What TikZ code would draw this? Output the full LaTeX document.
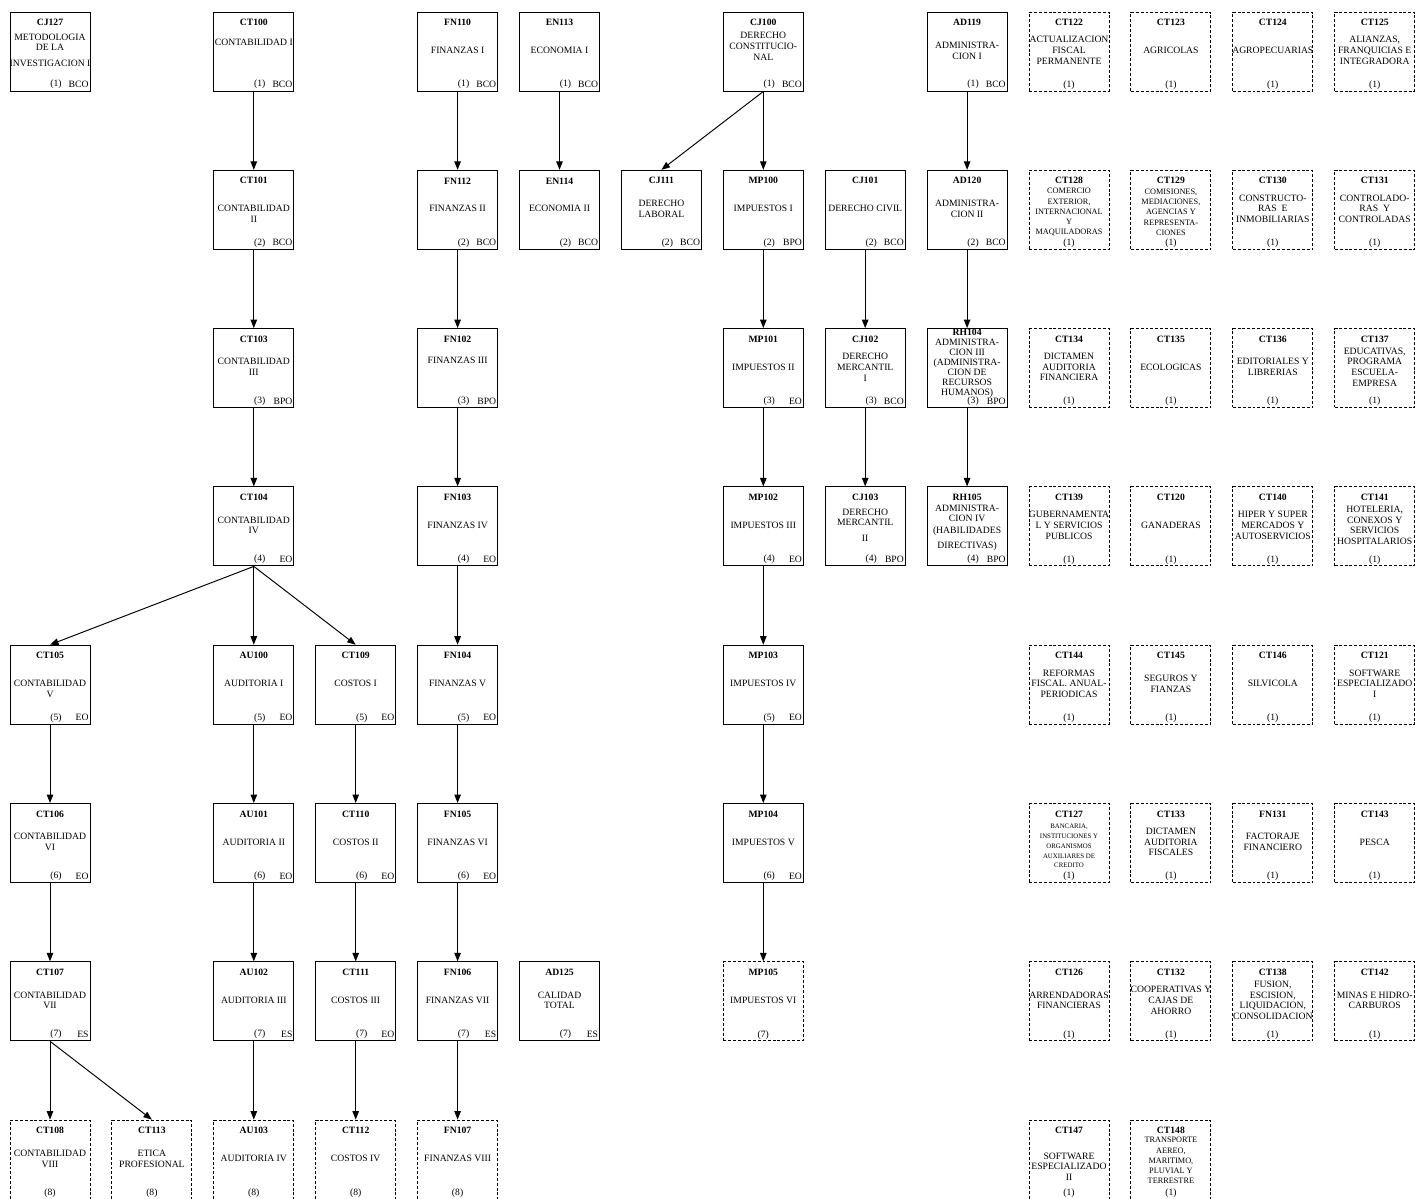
\documentclass[tikz,border=0pt]{standalone}
\usepackage{fontspec}
\setmainfont{Liberation Serif}
\usetikzlibrary{arrows.meta}

\newcommand{\chica}{\fontsize{4.7}{5.8}\selectfont}
\newcommand{\muychica}{\fontsize{3.9}{5.6}\selectfont}

% materia obligatoria: [opciones nombre]{col}{fila}{clave}{nombre}{semestre}{tipo}
\newcommand{\oblig}[7][]{%
  \node[caja] (#4) at ({1.0+2.038*#2},{-1.03-3.166*#3}) {};
  \node[clave] (#4-c) at ([yshift=-0.22cm]#4.north) {#4};
  \node[nombre,#1] (#4-n) at ([yshift=0.02cm]#4.center) {#5};
  \node[pie] (#4-s) at ([xshift=0.12cm,yshift=0.14cm]#4.south) {(#6)};
  \node[pie,anchor=east] (#4-t) at ([xshift=-0.02cm,yshift=0.14cm]#4.south east) {#7};
}
% materia optativa (caja punteada)
\newcommand{\optat}[6][]{%
  \node[cajaopt] (#4) at ({1.0+2.038*#2},{-1.03-3.166*#3}) {};
  \node[clave] (#4-c) at ([yshift=-0.22cm]#4.north) {#4};
  \node[nombre,#1] (#4-n) at ([yshift=0.02cm]#4.center) {#5};
  \node[pie] (#4-s) at ([yshift=0.13cm]#4.south) {(#6)};
}

\begin{document}
\begin{tikzpicture}[
  font=\fontsize{5.5}{6.1}\selectfont,
  caja/.style={draw, line width=0.55pt, minimum width=1.6cm, minimum height=1.58cm, inner sep=0},
  cajaopt/.style={caja, dash pattern=on 1.7pt off 1.1pt},
  clave/.style={font=\fontsize{5.5}{6.1}\selectfont\bfseries, inner sep=0},
  nombre/.style={align=center, inner sep=0},
  pie/.style={inner sep=0.3pt},
  flecha/.style={line width=0.55pt, -{Triangle[length=1.7mm,width=1.3mm]}},
]
\useasboundingbox (0,0) rectangle (28.3,-23.96);

% Contabilidad
\oblig{0}{0}{CJ127}{METODOLOGIA\\DE LA\\[3pt]INVESTIGACION I}{1}{BCO}
\oblig[yshift=0.16cm]{2}{0}{CT100}{CONTABILIDAD I}{1}{BCO}
\oblig[yshift=-0.1cm]{2}{1}{CT101}{CONTABILIDAD\\II}{2}{BCO}
\oblig{2}{2}{CT103}{CONTABILIDAD\\III}{3}{BPO}
\oblig{2}{3}{CT104}{CONTABILIDAD\\IV}{4}{EO}
\oblig[yshift=-0.1cm]{0}{4}{CT105}{CONTABILIDAD\\V}{5}{EO}
\oblig{0}{5}{CT106}{CONTABILIDAD\\VI}{6}{EO}
\oblig{0}{6}{CT107}{CONTABILIDAD\\VII}{7}{ES}
\optat{0}{7}{CT108}{CONTABILIDAD\\VIII}{8}
\optat{1}{7}{CT113}{ETICA\\PROFESIONAL}{8}

% Auditoria y costos
\oblig{2}{4}{AU100}{AUDITORIA I}{5}{EO}
\oblig{2}{5}{AU101}{AUDITORIA II}{6}{EO}
\oblig{2}{6}{AU102}{AUDITORIA III}{7}{ES}
\optat{2}{7}{AU103}{AUDITORIA IV}{8}
\oblig{3}{4}{CT109}{COSTOS I}{5}{EO}
\oblig{3}{5}{CT110}{COSTOS II}{6}{EO}
\oblig{3}{6}{CT111}{COSTOS III}{7}{EO}
\optat{3}{7}{CT112}{COSTOS IV}{8}

% Finanzas y economia
\oblig{4}{0}{FN110}{FINANZAS I}{1}{BCO}
\oblig{4}{1}{FN112}{FINANZAS II}{2}{BCO}
\oblig[yshift=0.14cm]{4}{2}{FN102}{FINANZAS III}{3}{BPO}
\oblig{4}{3}{FN103}{FINANZAS IV}{4}{EO}
\oblig{4}{4}{FN104}{FINANZAS V}{5}{EO}
\oblig{4}{5}{FN105}{FINANZAS VI}{6}{EO}
\oblig{4}{6}{FN106}{FINANZAS VII}{7}{ES}
\optat{4}{7}{FN107}{FINANZAS VIII}{8}
\oblig{5}{0}{EN113}{ECONOMIA I}{1}{BCO}
\oblig{5}{1}{EN114}{ECONOMIA II}{2}{BCO}
\oblig{5}{6}{AD125}{CALIDAD\\TOTAL}{7}{ES}

% Derecho e impuestos
\oblig[yshift=0.08cm]{7}{0}{CJ100}{DERECHO\\CONSTITUCIO-\\NAL}{1}{BCO}
\oblig{6}{1}{CJ111}{DERECHO\\LABORAL}{2}{BCO}
\oblig{7}{1}{MP100}{IMPUESTOS I}{2}{BPO}
\oblig{7}{2}{MP101}{IMPUESTOS II}{3}{EO}
\oblig{7}{3}{MP102}{IMPUESTOS III}{4}{EO}
\oblig{7}{4}{MP103}{IMPUESTOS IV}{5}{EO}
\oblig{7}{5}{MP104}{IMPUESTOS V}{6}{EO}
\optat{7}{6}{MP105}{IMPUESTOS VI}{7}
\oblig{8}{1}{CJ101}{DERECHO CIVIL}{2}{BCO}
\oblig{8}{2}{CJ102}{DERECHO\\MERCANTIL\\I}{3}{BCO}
\oblig{8}{3}{CJ103}{DERECHO\\MERCANTIL\\[3pt]II}{4}{BPO}

% Administracion
\oblig{9}{0}{AD119}{ADMINISTRA-\\CION I}{1}{BCO}
\oblig{9}{1}{AD120}{ADMINISTRA-\\CION II}{2}{BCO}
\node[caja] (RH104) at ({1.0+2.038*9},{-1.03-3.166*2}) {};
\node[clave] (RH104-c) at ([yshift=-0.09cm]RH104.north) {RH104};
\node[nombre, font=\fontsize{5.5}{5.7}\selectfont] (RH104-n) at ([yshift=-0.01cm]RH104.center) {ADMINISTRA-\\CION III\\(ADMINISTRA-\\CION DE\\RECURSOS\\HUMANOS)};
\node[pie] (RH104-s) at ([xshift=0.12cm,yshift=0.14cm]RH104.south) {(3)};
\node[pie,anchor=east] (RH104-t) at ([xshift=-0.02cm,yshift=0.14cm]RH104.south east) {BPO};
\oblig[yshift=-0.05cm, font=\fontsize{5.5}{5.6}\selectfont]{9}{3}{RH105}{ADMINISTRA-\\CION IV\\[1.5pt](HABILIDADES\\[3pt]DIRECTIVAS)}{4}{BPO}

% Optativas
\optat{10}{0}{CT122}{ACTUALIZACION\\FISCAL\\PERMANENTE}{1}
\optat{11}{0}{CT123}{AGRICOLAS}{1}
\optat{12}{0}{CT124}{AGROPECUARIAS}{1}
\optat{13}{0}{CT125}{ALIANZAS,\\FRANQUICIAS E\\INTEGRADORA}{1}
\optat[font=\chica,yshift=-0.07cm]{10}{1}{CT128}{COMERCIO\\EXTERIOR,\\INTERNACIONAL\\Y\\MAQUILADORAS}{1}
\optat[font=\chica,yshift=-0.07cm]{11}{1}{CT129}{COMISIONES,\\MEDIACIONES,\\AGENCIAS Y\\REPRESENTA-\\CIONES}{1}
\optat{12}{1}{CT130}{CONSTRUCTO-\\RAS \ E\\INMOBILIARIAS}{1}
\optat{13}{1}{CT131}{CONTROLADO-\\RAS \ Y\\CONTROLADAS}{1}
\optat{10}{2}{CT134}{DICTAMEN\\AUDITORIA\\FINANCIERA}{1}
\optat{11}{2}{CT135}{ECOLOGICAS}{1}
\optat{12}{2}{CT136}{EDITORIALES Y\\LIBRERIAS}{1}
\optat{13}{2}{CT137}{EDUCATIVAS,\\PROGRAMA\\ESCUELA-\\EMPRESA}{1}
\optat{10}{3}{CT139}{GUBERNAMENTA\\L Y SERVICIOS\\PUBLICOS}{1}
\optat{11}{3}{CT120}{GANADERAS}{1}
\optat{12}{3}{CT140}{HIPER Y SUPER\\MERCADOS Y\\AUTOSERVICIOS}{1}
\optat{13}{3}{CT141}{HOTELERIA,\\CONEXOS Y\\SERVICIOS\\HOSPITALARIOS}{1}
\optat{10}{4}{CT144}{REFORMAS\\FISCAL. ANUAL-\\PERIODICAS}{1}
\optat{11}{4}{CT145}{SEGUROS Y\\FIANZAS}{1}
\optat{12}{4}{CT146}{SILVICOLA}{1}
\optat{13}{4}{CT121}{SOFTWARE\\ESPECIALIZADO\\I}{1}
\optat[font=\muychica,yshift=-0.08cm]{10}{5}{CT127}{BANCARIA,\\INSTITUCIONES Y\\ORGANISMOS\\AUXILIARES DE\\CREDITO}{1}
\optat{11}{5}{CT133}{DICTAMEN\\AUDITORIA\\FISCALES}{1}
\optat{12}{5}{FN131}{FACTORAJE\\FINANCIERO}{1}
\optat{13}{5}{CT143}{PESCA}{1}
\optat{10}{6}{CT126}{ARRENDADORAS\\FINANCIERAS}{1}
\optat{11}{6}{CT132}{COOPERATIVAS Y\\CAJAS DE\\AHORRO}{1}
\optat{12}{6}{CT138}{FUSION,\\ESCISION,\\LIQUIDACION,\\CONSOLIDACION}{1}
\optat{13}{6}{CT142}{MINAS E HIDRO-\\CARBUROS}{1}
\optat[yshift=-0.16cm]{10}{7}{CT147}{SOFTWARE\\ESPECIALIZADO\\II}{1}
\optat[font=\chica,yshift=-0.04cm]{11}{7}{CT148}{TRANSPORTE\\AEREO,\\MARITIMO,\\PLUVIAL Y\\TERRESTRE}{1}

% Seriacion
\draw[flecha] (CT100.south) -- (CT101.north);
\draw[flecha] (CT101.south) -- (CT103.north);
\draw[flecha] (CT103.south) -- (CT104.north);
\draw[flecha] (CT104.south) -- (CT105.north);
\draw[flecha] (CT104.south) -- (AU100.north);
\draw[flecha] (CT104.south) -- (CT109.north);
\draw[flecha] (CT105.south) -- (CT106.north);
\draw[flecha] (CT106.south) -- (CT107.north);
\draw[flecha] (CT107.south) -- (CT108.north);
\draw[flecha] (CT107.south) -- (CT113.north);
\draw[flecha] (AU100.south) -- (AU101.north);
\draw[flecha] (AU101.south) -- (AU102.north);
\draw[flecha] (AU102.south) -- (AU103.north);
\draw[flecha] (CT109.south) -- (CT110.north);
\draw[flecha] (CT110.south) -- (CT111.north);
\draw[flecha] (CT111.south) -- (CT112.north);
\draw[flecha] (FN110.south) -- (FN112.north);
\draw[flecha] (FN112.south) -- (FN102.north);
\draw[flecha] (FN102.south) -- (FN103.north);
\draw[flecha] (FN103.south) -- (FN104.north);
\draw[flecha] (FN104.south) -- (FN105.north);
\draw[flecha] (FN105.south) -- (FN106.north);
\draw[flecha] (FN106.south) -- (FN107.north);
\draw[flecha] (EN113.south) -- (EN114.north);
\draw[flecha] (CJ100.south) -- (CJ111.north);
\draw[flecha] (CJ100.south) -- (MP100.north);
\draw[flecha] (MP100.south) -- (MP101.north);
\draw[flecha] (MP101.south) -- (MP102.north);
\draw[flecha] (MP102.south) -- (MP103.north);
\draw[flecha] (MP103.south) -- (MP104.north);
\draw[flecha] (MP104.south) -- (MP105.north);
\draw[flecha] (CJ101.south) -- (CJ102.north);
\draw[flecha] (CJ102.south) -- (CJ103.north);
\draw[flecha] (AD119.south) -- (AD120.north);
\draw[flecha] (AD120.south) -- (RH104.north);
\draw[flecha] (RH104.south) -- (RH105.north);
\end{tikzpicture}
\end{document}
